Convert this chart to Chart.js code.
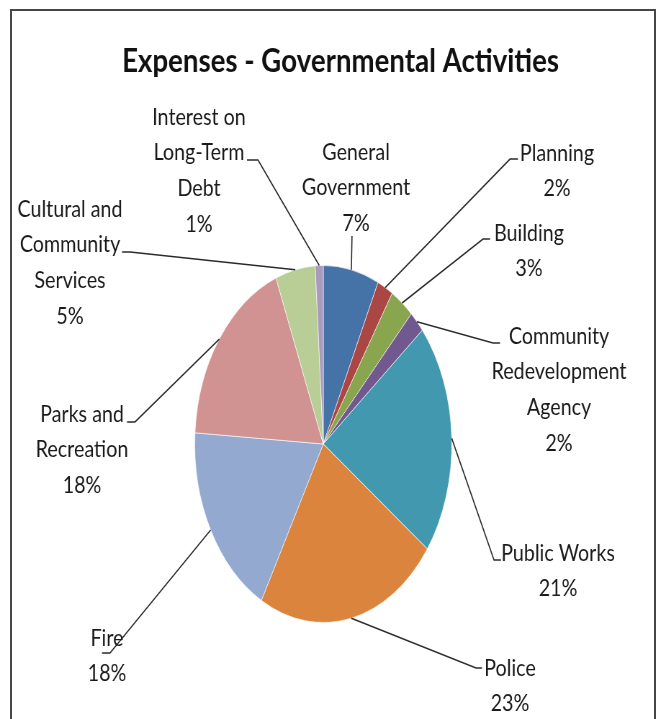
<!DOCTYPE html>
<html>
<head>
<meta charset="utf-8">
<title>Expenses - Governmental Activities</title>
<script src="https://cdn.jsdelivr.net/npm/chart.js@4.4.1/dist/chart.umd.min.js"></script>
<style>
  html, body { margin: 0; padding: 0; background: #fff; overflow: hidden; width: 657px; height: 719px; }
  #frame { position: absolute; left: 10px; top: 9px; width: 646px; height: 720px;
           border: 2px solid #464646; border-bottom: none; box-sizing: border-box; }
  #graph { position: absolute; left: 0; top: 0; transform: scaleX(0.72); transform-origin: 0 0; }
</style>
</head>
<body>
<div id="frame"></div>
<canvas id="graph" width="912" height="719"></canvas>
<script>
// categories and their share of expenses (%)
const categories = ['General Government', 'Planning', 'Building', 'Community Redevelopment Agency',
  'Public Works', 'Police', 'Fire', 'Parks and Recreation', 'Cultural and Community Services',
  'Interest on Long-Term Debt'];
const shares = [7, 2, 3, 2, 21, 23, 18, 18, 5, 1];

// how each category name is broken over lines in its label
const labelLines = [
  ['General', 'Government'], ['Planning'], ['Building'], ['Community', 'Redevelopment', 'Agency'],
  ['Public Works'], ['Police'], ['Fire'], ['Parks and', 'Recreation'],
  ['Cultural and', 'Community', 'Services'], ['Interest on', 'Long-Term', 'Debt']
];

const colors = ['#4572A7', '#AA4643', '#89A54E', '#71588F', '#4198AF',
  '#DB843D', '#93A9CF', '#D19392', '#B9CD96', '#A99BBD'];

// the canvas is drawn wide and squeezed horizontally by CSS
const SX = 0.72;

// label placement in page px: text centre x, first line centre y,
// leader elbow (ex, ey) and end of the short horizontal tick (hx)
const labelPos = [
  { tx: 356, ty: 151, ex: 352, ey: 236, hx: 352 },
  { tx: 557, ty: 152, ex: 510, ey: 159, hx: 518 },
  { tx: 529, ty: 232, ex: 483, ey: 239, hx: 490 },
  { tx: 559, ty: 335, ex: 493, ey: 343, hx: 500 },
  { tx: 558, ty: 552, ex: 494, ey: 560, hx: 501 },
  { tx: 510, ty: 667, ex: 476, ey: 668, hx: 482 },
  { tx: 107, ty: 637, ex: 110, ey: 653, hx: 102 },
  { tx: 82,  ty: 413, ex: 135, ey: 422, hx: 127 },
  { tx: 70,  ty: 208, ex: 130, ey: 252, hx: 122 },
  { tx: 199, ty: 116, ex: 258, ey: 160, hx: 247 }
];
const lineGap = 35.8;

function squeezedText(ctx, text, x, y, k) {
  ctx.save();
  ctx.translate(x, y);
  ctx.scale(k, 1);
  ctx.fillText(text, 0, 0);
  ctx.restore();
}

const labelPlugin = {
  id: 'pieLabels',
  afterDraw(chart) {
    const ctx = chart.ctx;
    const meta = chart.getDatasetMeta(0);
    const total = shares.reduce((a, b) => a + b, 0);

    // title
    ctx.save();
    ctx.fillStyle = '#111';
    ctx.textAlign = 'center';
    ctx.textBaseline = 'alphabetic';
    ctx.font = 'bold 32px Lato';
    squeezedText(ctx, 'Expenses - Governmental Activities', 340.5 / SX, 72, 1.2);

    // leader lines
    ctx.strokeStyle = '#2a2a2a';
    ctx.lineWidth = 1.6;
    meta.data.forEach((arc, i) => {
      const p = arc.getProps(['x', 'y', 'startAngle', 'endAngle', 'outerRadius'], true);
      const mid = (p.startAngle + p.endAngle) / 2;
      const px = p.x + Math.cos(mid) * p.outerRadius;
      const py = p.y + Math.sin(mid) * p.outerRadius;
      const lp = labelPos[i];
      ctx.beginPath();
      ctx.moveTo(px, py);
      ctx.lineTo(lp.ex / SX, lp.ey);
      ctx.lineTo(lp.hx / SX, lp.ey);
      ctx.stroke();
    });

    // label text: name lines then percentage
    ctx.font = '24px Lato';
    ctx.fillStyle = '#1a1a1a';
    labelLines.forEach((lines, i) => {
      const lp = labelPos[i];
      const pct = Math.round(shares[i] / total * 100) + '%';
      lines.concat([pct]).forEach((t, j) => {
        squeezedText(ctx, t, lp.tx / SX, lp.ty + j * lineGap + 8.5, 1.14);
      });
    });
    ctx.restore();
  }
};

new Chart(document.getElementById('graph'), {
  type: 'pie',
  data: {
    labels: categories,
    datasets: [{
      data: shares,
      backgroundColor: colors,
      borderColor: 'rgba(255,255,255,0.6)',
      borderWidth: 1
    }]
  },
  options: {
    responsive: false,
    animation: false,
    layout: { padding: { top: 265, bottom: 96, left: 249, right: 263 } },
    plugins: {
      legend: { display: false },
      tooltip: { enabled: false }
    }
  },
  plugins: [labelPlugin]
});
</script>
</body>
</html>
